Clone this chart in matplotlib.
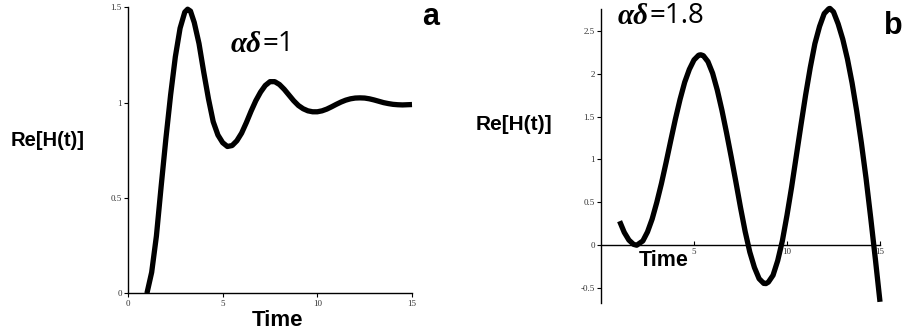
import matplotlib.pyplot as plt
import numpy as np

# panel a: alpha*delta = 1 (damped oscillation settling at 1)
time_a = [1.0, 1.25, 1.5, 1.75, 2.0, 2.25, 2.5, 2.75, 3.0, 3.15, 3.3, 3.5, 3.75, 4.0,
          4.25, 4.5, 4.75, 5.0, 5.25, 5.5, 5.75, 6.0, 6.25, 6.5, 6.75, 7.0, 7.25, 7.5,
          7.75, 8.0, 8.25, 8.5, 8.75, 9.0, 9.25, 9.5, 9.75, 10.0, 10.25, 10.5, 10.75,
          11.0, 11.25, 11.5, 11.75, 12.0, 12.25, 12.5, 12.75, 13.0, 13.25, 13.5, 13.75,
          14.0, 14.25, 14.5, 14.75, 15.0]
re_h_a = [0.0, 0.11, 0.30, 0.56, 0.81, 1.04, 1.24, 1.39, 1.475, 1.49, 1.48, 1.42, 1.31, 1.16,
          1.02, 0.90, 0.83, 0.79, 0.77, 0.775, 0.80, 0.84, 0.895, 0.955, 1.01, 1.055, 1.09, 1.11,
          1.11, 1.095, 1.07, 1.04, 1.01, 0.985, 0.968, 0.957, 0.952, 0.952, 0.957, 0.966, 0.978,
          0.991, 1.003, 1.013, 1.02, 1.024, 1.025, 1.024, 1.02, 1.014, 1.007, 1.0, 0.995,
          0.991, 0.989, 0.988, 0.989, 0.99]

# panel b: alpha*delta = 1.8 (growing oscillation)
time_b = [1.0, 1.25, 1.5, 1.75, 1.92, 2.25, 2.5, 2.75, 3.0, 3.25, 3.5, 3.75, 4.0, 4.25,
          4.5, 4.75, 5.0, 5.25, 5.36, 5.5, 5.75, 6.0, 6.25, 6.5, 6.75, 7.0, 7.25, 7.5,
          7.75, 8.0, 8.25, 8.5, 8.75, 8.87, 9.0, 9.25, 9.5, 9.75, 10.0, 10.25, 10.5, 10.75,
          11.0, 11.25, 11.5, 11.75, 12.0, 12.25, 12.31, 12.5, 12.75, 13.0, 13.25, 13.5,
          13.75, 14.0, 14.25, 14.5, 14.75, 15.0]
re_h_b = [0.28, 0.15, 0.06, 0.01, 0.0, 0.05, 0.155, 0.305, 0.50, 0.72, 0.965, 1.22, 1.47, 1.70,
          1.90, 2.05, 2.16, 2.215, 2.22, 2.21, 2.14, 2.005, 1.81, 1.575, 1.31, 1.03, 0.74, 0.44,
          0.16, -0.08, -0.26, -0.39, -0.445, -0.447, -0.43, -0.35, -0.18, 0.05, 0.35, 0.68, 1.04, 1.40,
          1.75, 2.07, 2.35, 2.55, 2.70, 2.757, 2.76, 2.72, 2.58, 2.40, 2.17, 1.89,
          1.56, 1.19, 0.78, 0.32, -0.16, -0.66]

ticks_a_x = [0, 5, 10, 15]
ticks_a_y = [0, 0.5, 1, 1.5]
ticks_b_x = [5, 10, 15]
ticks_b_y = [-0.5, 0, 0.5, 1, 1.5, 2, 2.5]

fig = plt.figure(figsize=(9.05, 3.34), dpi=100)

def style_axes(ax):
    ax.spines['top'].set_visible(False)
    ax.spines['right'].set_visible(False)
    for s in ['left', 'bottom']:
        ax.spines[s].set_linewidth(1.0)
    ax.tick_params(length=3, width=0.8, pad=1.5, labelsize=6.5)
    for lab in ax.get_xticklabels() + ax.get_yticklabels():
        lab.set_family('Liberation Serif')
        lab.set_color('#333333')

ax1 = fig.add_axes([128/905, 1 - 293.3/334, 284/905, 286/334])
ax1.plot(time_a, re_h_a, color='black', lw=3.8, solid_capstyle='butt',
         solid_joinstyle='round', clip_on=False)
ax1.set_xlim(0, 15)
ax1.set_ylim(0, 1.5)
ax1.set_xticks(ticks_a_x)
ax1.set_xticklabels([str(t) for t in ticks_a_x])
ax1.set_yticks(ticks_a_y)
ax1.set_yticklabels(['0', '0.5', '1', '1.5'])
style_axes(ax1)

ax2 = fig.add_axes([601/905, 1 - 302.7/334, 279/905, 293.4/334])
ax2.plot(time_b, re_h_b, color='black', lw=3.8, solid_capstyle='butt',
         solid_joinstyle='round', clip_on=False)
ax2.set_xlim(0, 15)
ax2.set_ylim(-0.67, 2.75)
ax2.spines['bottom'].set_position(('data', 0))
ax2.set_xticks(ticks_b_x)
ax2.set_xticklabels([str(t) for t in ticks_b_x])
ax2.set_yticks(ticks_b_y)
ax2.set_yticklabels(['-0.5', '0', '0.5', '1', '1.5', '2', '2.5'])
style_axes(ax2)
ax2.tick_params(axis='x', direction='in', pad=2)

# labels
fig.text(48/905, 1 - 140/334, 'Re[H(t)]', fontsize=14.5, fontweight='bold',
         family='Liberation Sans', ha='center', va='center')
fig.text(514/905, 1 - 125/334, 'Re[H(t)]', fontsize=15, fontweight='bold',
         family='Liberation Sans', ha='center', va='center')
fig.text(277/905, 1 - 320/334, 'Time', fontsize=16, fontweight='bold',
         family='Liberation Sans', ha='center', va='center')
fig.text(664/905, 1 - 261/334, 'Time', fontsize=15.5, fontweight='bold',
         family='Liberation Sans', ha='center', va='center')

# alpha*delta annotations: greek in bold italic serif, rest in sans
for xs, ys, rest in [(262, 44, '=1'), (649, 16, '=1.8')]:
    fig.text(xs/905, 1 - ys/334, '\u03b1\u03b4', fontsize=21, fontweight='bold',
             style='italic', family='Liberation Serif', ha='right', va='center')
    fig.text(xs/905, 1 - ys/334, rest, fontsize=20, family='Open Sans',
             ha='left', va='center')

fig.text(431/905, 1 - 17/334, 'a', fontsize=22, fontweight='bold',
         family='Liberation Sans', ha='center', va='center')
fig.text(893/905, 1 - 26/334, 'b', fontsize=22, fontweight='bold',
         family='Liberation Sans', ha='center', va='center')

fig.savefig('out.png', dpi=100, facecolor='white')
